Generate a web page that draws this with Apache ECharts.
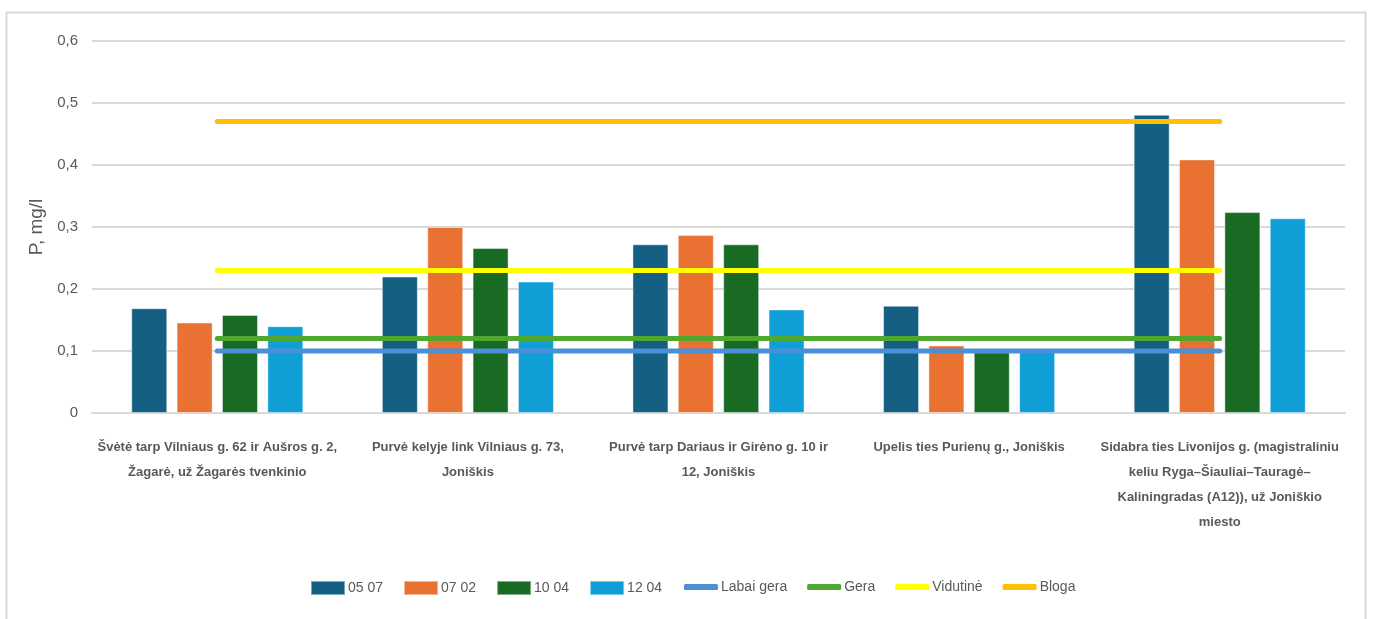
<!DOCTYPE html>
<html>
<head>
<meta charset="utf-8">
<script src="https://cdn.jsdelivr.net/npm/echarts@6/dist/echarts.min.js"></script>
<style>
  html, body { margin: 0; padding: 0; background: #ffffff; }
  #chart { width: 1373px; height: 619px; }
</style>
</head>
<body>
<div id="chart"></div>
<script>
// Sampling sites (x-axis categories)
const sites = [
  'Švėtė tarp Vilniaus g. 62 ir Aušros g. 2,\nŽagarė, už Žagarės tvenkinio',
  'Purvė kelyje link Vilniaus g. 73,\nJoniškis',
  'Purvė tarp Dariaus ir Girėno g. 10 ir\n12, Joniškis',
  'Upelis ties Purienų g., Joniškis',
  'Sidabra ties Livonijos g. (magistraliniu\nkeliu Ryga–Šiauliai–Tauragė–\nKaliningradas (A12)), už Joniškio\nmiesto'
];

// Total phosphorus, mg/l, by sampling date
const d0507 = [0.169, 0.220, 0.272, 0.173, 0.481];
const d0702 = [0.146, 0.300, 0.287, 0.109, 0.409];
const d1004 = [0.158, 0.266, 0.272, 0.098, 0.324];
const d1204 = [0.140, 0.212, 0.167, 0.100, 0.314];

// Water quality class limits
const labaiGera = [0.10, 0.10, 0.10, 0.10, 0.10];
const gera      = [0.12, 0.12, 0.12, 0.12, 0.12];
const vidutine  = [0.23, 0.23, 0.23, 0.23, 0.23];
const bloga     = [0.47, 0.47, 0.47, 0.47, 0.47];

const barNames  = ['05 07', '07 02', '10 04', '12 04'];
const lineNames = ['Labai gera', 'Gera', 'Vidutinė', 'Bloga'];

const TXT = '#595959';
const FONT = '"Liberation Sans", Arial, sans-serif';

function bar(name, data, color) {
  return {
    name, type: 'bar', data,
    barWidth: 36, barGap: '26%',
    itemStyle: { color, borderColor: 'rgba(255,255,255,0.45)', borderWidth: 1 },
    z: 2
  };
}
function limit(name, data, color) {
  return {
    name, type: 'line', data,
    symbol: 'none', showSymbol: false,
    lineStyle: { color, width: 5, cap: 'round' },
    itemStyle: { color },
    z: 3
  };
}

const legendText = { color: TXT, fontSize: 14, fontFamily: FONT, padding: [0, 0, 0, -2] };

const chart = echarts.init(document.getElementById('chart'), null, { renderer: 'canvas' });
chart.setOption({
  animation: false,
  backgroundColor: '#ffffff',
  graphic: [{
    type: 'rect',
    shape: { x: 6.5, y: 12.5, width: 1359, height: 640 },
    style: { fill: 'none', stroke: '#d9d9d9', lineWidth: 2 },
    silent: true
  }],
  grid: { left: 92, right: 28, top: 41, bottom: 206 },
  legend: [
    {
      left: 305, top: 575,
      itemWidth: 34, itemHeight: 14, itemGap: 20,
      icon: 'rect',
      textStyle: legendText,
      data: barNames
    },
    {
      left: 679, top: 575,
      itemWidth: 34, itemHeight: 6, itemGap: 20,
      icon: 'roundRect',
      textStyle: legendText,
      data: lineNames
    }
  ],
  xAxis: {
    type: 'category',
    data: sites,
    axisLine: { show: true, lineStyle: { color: '#d9d9d9', width: 2 } },
    axisTick: { show: false },
    axisLabel: {
      interval: 0,
      margin: 22,
      color: TXT,
      fontSize: 13,
      fontWeight: 'bold',
      fontFamily: FONT,
      lineHeight: 25
    }
  },
  yAxis: {
    type: 'value',
    min: 0, max: 0.6, interval: 0.1,
    name: 'P, mg/l',
    nameLocation: 'middle',
    nameGap: 41,
    nameTextStyle: { color: TXT, fontSize: 19, fontFamily: FONT },
    axisLine: { show: false },
    axisTick: { show: false },
    splitLine: { lineStyle: { color: '#d9d9d9', width: 2 } },
    axisLabel: {
      margin: 14,
      color: TXT,
      fontSize: 15,
      fontFamily: FONT,
      formatter: v => (v === 0 ? '0' : v.toFixed(1).replace('.', ','))
    }
  },
  series: [
    bar(barNames[0], d0507, '#156082'),
    bar(barNames[1], d0702, '#e97132'),
    bar(barNames[2], d1004, '#196b24'),
    bar(barNames[3], d1204, '#0f9ed5'),
    limit(lineNames[0], labaiGera, '#4a90d9'),
    limit(lineNames[1], gera, '#4ea72e'),
    limit(lineNames[2], vidutine, '#ffff00'),
    limit(lineNames[3], bloga, '#ffc000')
  ]
});
</script>
</body>
</html>
